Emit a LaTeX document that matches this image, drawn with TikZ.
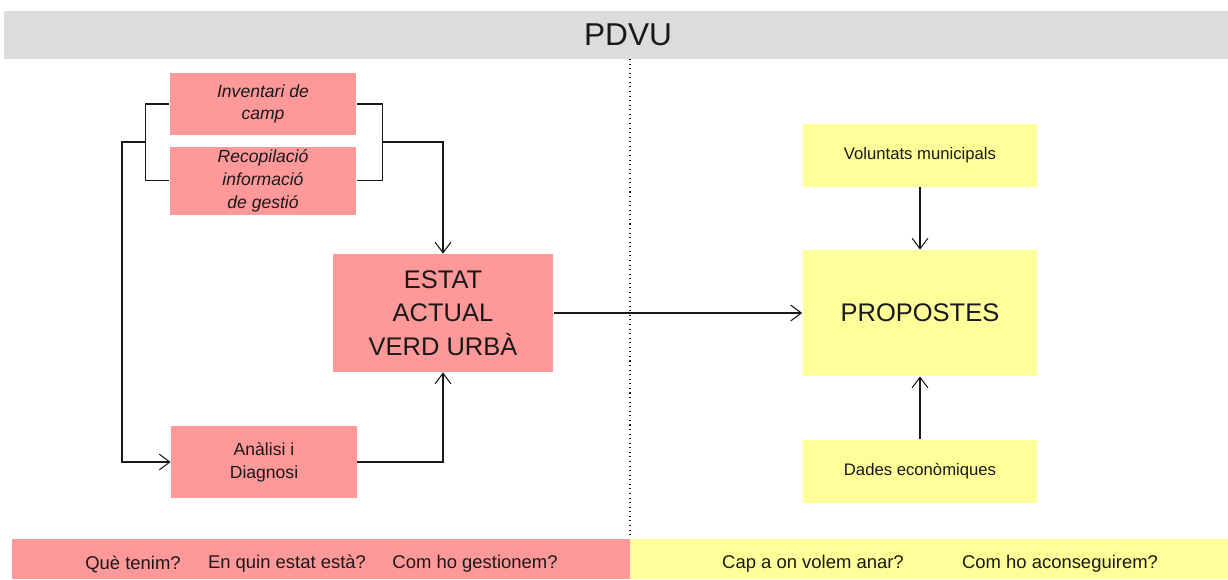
\documentclass[tikz,border=0pt]{standalone}
\usepackage{fontspec}
\setmainfont{Liberation Sans}
\usetikzlibrary{positioning, arrows.meta, calc}

\definecolor{rosa}{RGB}{255,153,153}
\definecolor{groc}{RGB}{255,255,153}
\definecolor{gris}{RGB}{220,220,220}
\definecolor{tinta}{RGB}{25,25,25}

\tikzset{
  caixa/.style={fill=rosa, text=tinta, align=center, inner sep=0pt},
  caixagroga/.style={fill=groc, text=tinta, align=center, inner sep=0pt},
  linia/.style={line width=0.6pt, draw=tinta},
  fletxa/.style={linia, -{Straight Barb[length=6pt,width=9pt]}},
}

\begin{document}
\begin{tikzpicture}[x=0.02cm, y=-0.02cm, font=\fontsize{10}{12}\selectfont, text=tinta]
	\useasboundingbox (0,0) rectangle (1228,579);
	% capcalera i separador
	\fill[gris] (4,11) rectangle (1228,59);
	\node at (628,35) (titol) {\fontsize{18}{20}\selectfont PDVU};
	\draw[dotted, linia] (630,59) -- (630,539);

	% banda esquerra: estat actual
	\node at (263,104) [caixa, minimum width=3.74cm, minimum height=1.24cm, font=\itshape\fontsize{10}{13}\selectfont] (inventari) {Inventari de\\camp};
	\node [below=0.22cm of inventari, caixa, minimum width=3.74cm, minimum height=1.36cm, font=\itshape\fontsize{10}{13}\selectfont] (recopilacio) {Recopilació\\informació\\de gestió};
	\node at (264,462) [caixa, minimum width=3.72cm, minimum height=1.44cm, font=\fontsize{10}{13}\selectfont] (analisi) {Anàlisi i\\Diagnosi};
	\node at (443,313) [caixa, minimum width=4.42cm, minimum height=2.36cm, font=\fontsize{14.5}{19}\selectfont] (estat) {ESTAT\\ACTUAL\\VERD URBÀ};

	% banda dreta: propostes
	\node at (920,313) [caixagroga, minimum width=4.7cm, minimum height=2.52cm, font=\fontsize{14.5}{19}\selectfont] (propostes) {PROPOSTES};
	\node at (920,155) [caixagroga, minimum width=4.7cm, minimum height=1.26cm, font=\fontsize{9.5}{12}\selectfont] (voluntats) {Voluntats municipals};
	\node at (920,471) [caixagroga, minimum width=4.7cm, minimum height=1.26cm, font=\fontsize{9.5}{12}\selectfont] (dades) {Dades econòmiques};

	% claudator i connexions
	\draw[linia] (inventari.west) -- ++(-24,0) |- (recopilacio.west);
	\draw[linia] (inventari.east) -- ++(26,0) |- (recopilacio.east);
	\coordinate (unioE) at (146,142);
	\coordinate (unioD) at (383,142);
	\draw[fletxa] (unioE) -- ++(-24,0) |- (analisi.west);
	\draw[fletxa] (unioD) -| (estat.north);
	\draw[fletxa] (analisi.east) -| (estat.south);
	\draw[fletxa] (estat.east) -- (propostes.west);
	\draw[fletxa] (voluntats) -- (propostes);
	\draw[fletxa] (dades) -- (propostes);

	% peu
	\fill[rosa] (12,539) rectangle (630,579);
	\fill[groc] (630,539) rectangle (1228,579);
	\node at (133,564) (tenim) {\fontsize{10.5}{12}\selectfont Què tenim?};
	\node at (287,564) (quinestat) {\fontsize{10.5}{12}\selectfont En quin estat està?};
	\node at (475,564) (gestionem) {\fontsize{10.5}{12}\selectfont Com ho gestionem?};
	\node at (813,564) (anar) {\fontsize{10.5}{12}\selectfont Cap a on volem anar?};
	\node at (1060,564) (aconseguirem) {\fontsize{10.5}{12}\selectfont Com ho aconseguirem?};
\end{tikzpicture}
\end{document}
